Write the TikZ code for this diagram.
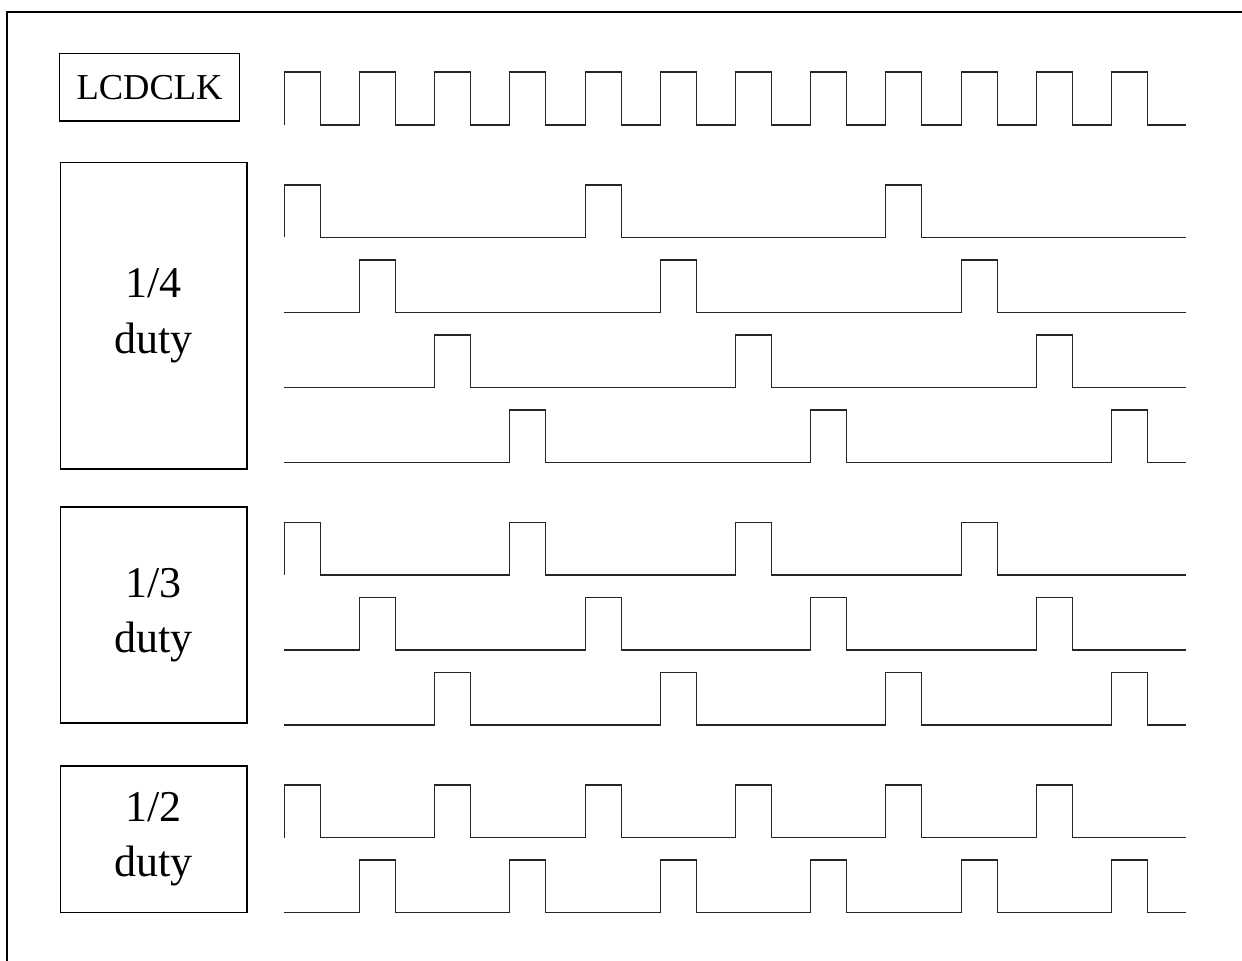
\documentclass[tikz,border=0pt]{standalone}
\usepackage{fontspec}
\setmainfont{Liberation Serif}
\usetikzlibrary{positioning}

\tikzset{
    labelbox/.style={draw, line width=0.6pt, inner sep=0pt, align=center},
    dutyfont/.style={font=\fontsize{22}{27.8}\selectfont},
    wave/.style={line width=0.55pt, line join=miter, black!85}
}

% one signal row: low level, high level, clock slots that carry a pulse
\newcommand{\pulserow}[3]{%
    \draw[wave] (284.3,#1) \foreach \k in {#3} {
        -- ({284.3+75.2*\k},#1) -- ++(0,#2-#1) -- ++(36,0) -- ++(0,#1-#2)
    } -- (1186,#1);
}

\begin{document}
\begin{tikzpicture}[x=0.5pt, y=-0.5pt] % one unit = one pixel, y downwards
    \useasboundingbox (0,0) rectangle (1242,961);

    % frame (only top and left edges are inside the page)
    \draw[line width=0.8pt] (1242,12) -- (7,12) -- (7,961);

    % label boxes
    \node[labelbox, minimum width=90.2pt, minimum height=33.85pt,
          font=\fontsize{18.25}{22}\selectfont] (clk) at (149.5,87.2) {LCDCLK};
    \node[labelbox, dutyfont, minimum width=93.35pt, minimum height=153.15pt]
        (quarter) at (153.7,315.9) {1/4\\duty};
    \node[labelbox, dutyfont, minimum width=93.35pt, minimum height=108pt]
        (third) at (153.7,615) {1/3\\duty};
    \node[labelbox, dutyfont, minimum width=93.35pt, minimum height=73.15pt]
        (half) at (153.7,839.2) {1/2\\duty};

    % clock
    \pulserow{125}{72}{0,...,11}

    % 1/4 duty
    \pulserow{237.5}{185}{0,4,8}
    \pulserow{312.5}{260}{1,5,9}
    \pulserow{387.5}{335}{2,6,10}
    \pulserow{462.5}{410}{3,7,11}

    % 1/3 duty
    \pulserow{575}{522.3}{0,3,6,9}
    \pulserow{650}{597.3}{1,4,7,10}
    \pulserow{725}{672.3}{2,5,8,11}

    % 1/2 duty
    \pulserow{837.7}{785}{0,2,4,6,8,10}
    \pulserow{912.5}{860}{1,3,5,7,9,11}
\end{tikzpicture}
\end{document}
